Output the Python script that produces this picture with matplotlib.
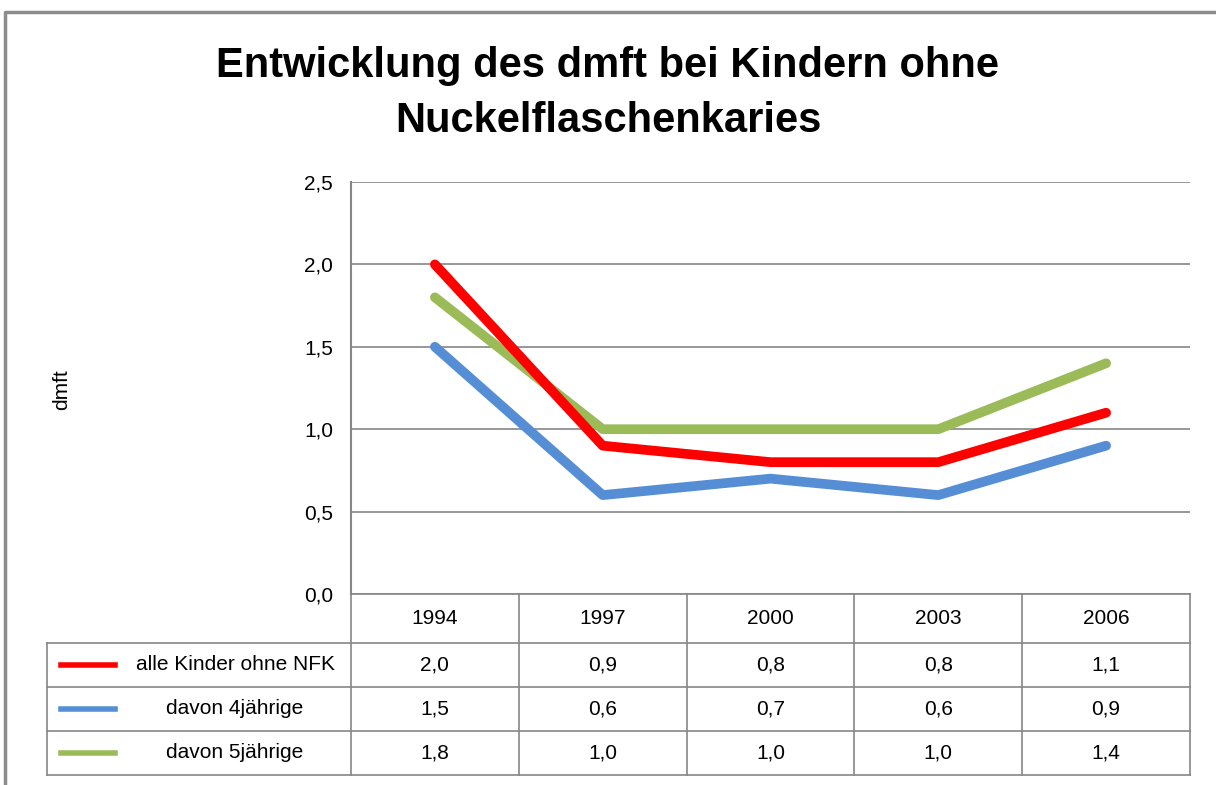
import matplotlib.pyplot as plt
from matplotlib.lines import Line2D

years = ['1994', '1997', '2000', '2003', '2006']
series_names = ['alle Kinder ohne NFK', 'davon 4jährige', 'davon 5jährige']
alle = [2.0, 0.9, 0.8, 0.8, 1.1]
vier = [1.5, 0.6, 0.7, 0.6, 0.9]
fuenf = [1.8, 1.0, 1.0, 1.0, 1.4]
yticks = [0, 0.5, 1.0, 1.5, 2.0, 2.5]
colors = ['#ff0000', '#558ed5', '#9bbb59']

plt.rcParams['font.family'] = ['Liberation Sans', 'DejaVu Sans']

W, H = 1216, 785
fig = plt.figure(figsize=(W / 100, H / 100), dpi=100)

def fx(px):
    return px / W

def fy(py):
    return 1 - py / H

def de(v):
    return f'{v:.1f}'.replace('.', ',')

grey = '#868686'

# outer chart frame
fig.add_artist(Line2D([fx(5), fx(5), fx(1216)], [fy(785), fy(12), fy(12)],
                      transform=fig.transFigure, color='#8c8c8c', lw=2.5))

L, R, T, B = 351, 1190, 182, 594
ax = fig.add_axes([fx(L), fy(B), fx(R - L), (B - T) / H])

x = range(len(years))
ax.plot(x, vier, color=colors[1], lw=7, solid_capstyle='round', solid_joinstyle='round')
ax.plot(x, fuenf, color=colors[2], lw=7, solid_capstyle='round', solid_joinstyle='round')
ax.plot(x, alle, color=colors[0], lw=7, solid_capstyle='round', solid_joinstyle='round')

ax.set_xlim(-0.5, len(years) - 0.5)
ax.set_ylim(0, 2.5)
ax.set_yticks(yticks)
ax.set_yticklabels([de(v) for v in yticks], fontsize=15)
ax.set_xticks([])
ax.tick_params(axis='y', length=0, pad=13)
ax.grid(axis='y', color=grey, lw=1.2)
ax.set_axisbelow(True)
for s in ['top', 'right', 'bottom']:
    ax.spines[s].set_visible(False)
ax.spines['left'].set_color(grey)
ax.spines['left'].set_linewidth(1.5)

fig.text(fx(62), fy(390), 'dmft', rotation=90, ha='center', va='center', fontsize=15)

fig.text(0.5, fy(66), 'Entwicklung des dmft bei Kindern ohne', ha='center', va='center',
         fontsize=30, fontweight='bold')
fig.text(0.5, fy(121), 'Nuckelflaschenkaries', ha='center', va='center',
         fontsize=30, fontweight='bold')

# data table below the axis
colw = (R - L) / len(years)
rows_y = [594, 643, 687, 731, 775]
TL = 47

def hline(x0, x1, y, lw=1.2):
    fig.add_artist(Line2D([fx(x0), fx(x1)], [fy(y), fy(y)], transform=fig.transFigure, color=grey, lw=lw))

def vline(x0, y0, y1, lw=1.2):
    fig.add_artist(Line2D([fx(x0), fx(x0)], [fy(y0), fy(y1)], transform=fig.transFigure, color=grey, lw=lw))

hline(L, R, rows_y[0])
for yy in rows_y[1:]:
    hline(TL, R, yy)
vline(TL, rows_y[1], rows_y[-1])
for i in range(len(years) + 1):
    vline(L + i * colw, rows_y[0], rows_y[-1])

for i, yr in enumerate(years):
    fig.text(fx(L + (i + 0.5) * colw), fy((rows_y[0] + rows_y[1]) / 2), yr,
             ha='center', va='center', fontsize=15)

for r, (name, vals, c) in enumerate(zip(series_names, [alle, vier, fuenf], colors)):
    yc = fy((rows_y[r + 1] + rows_y[r + 2]) / 2)
    fig.add_artist(Line2D([fx(61), fx(115)], [yc, yc], transform=fig.transFigure, color=c, lw=4))
    fig.text(fx(235), yc, name, ha='center', va='center', fontsize=15)
    for i, v in enumerate(vals):
        fig.text(fx(L + (i + 0.5) * colw), yc, de(v),
                 ha='center', va='center', fontsize=15)

fig.savefig('out.png', dpi=100)
